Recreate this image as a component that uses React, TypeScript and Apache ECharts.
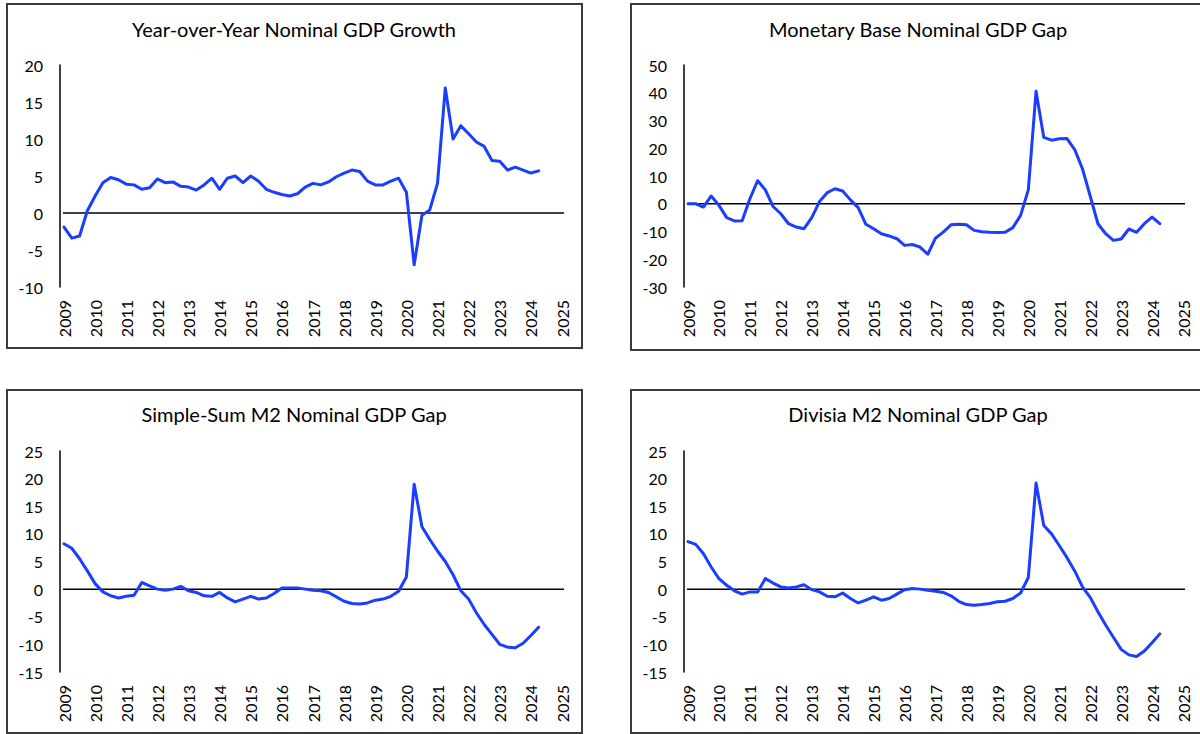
import React, { useEffect, useRef } from "react";
import * as echarts from "echarts";

// ---------- data ----------
const firstYear = 2009;
const lastYearTick = 2025;
const quarterCount = 62; // 2009Q1 .. 2024Q2

const panelTitles = [
  "Year-over-Year Nominal GDP Growth",
  "Monetary Base Nominal GDP Gap",
  "Simple-Sum M2 Nominal GDP Gap",
  "Divisia M2 Nominal GDP Gap",
];

const yoyNominalGdpGrowth = [
  -1.9, -3.4, -3.1, 0.3,
  2.3, 4.1, 4.8, 4.5,
  3.9, 3.8, 3.2, 3.4,
  4.6, 4.1, 4.2, 3.6,
  3.5, 3.1, 3.8, 4.7,
  3.2, 4.7, 5.0, 4.1,
  5.0, 4.3, 3.2, 2.8,
  2.5, 2.3, 2.6, 3.5,
  4.0, 3.8, 4.2, 4.9,
  5.4, 5.8, 5.6, 4.3,
  3.8, 3.8, 4.3, 4.7,
  2.8, -7.0, -0.3, 0.4,
  4.0, 16.9, 10.0, 11.8,
  10.7, 9.6, 9.0, 7.1,
  7.0, 5.8, 6.2, 5.8,
  5.4, 5.7,
];

const monetaryBaseGap = [
  0.0, 0.0, -1.2, 2.8,
  -0.6, -5.0, -6.2, -6.1,
  1.8, 8.3, 5.0, -1.0,
  -3.6, -7.2, -8.4, -9.0,
  -5.0, 0.8, 4.0, 5.4,
  4.6, 1.4, -1.4, -7.4,
  -9.0, -10.8, -11.6, -12.6,
  -15.0, -14.7, -15.6, -18.2,
  -12.4, -10.2, -7.6, -7.4,
  -7.6, -9.6, -10.1, -10.3,
  -10.4, -10.3, -8.6, -4.2,
  5.0, 40.5, 23.9, 22.9,
  23.4, 23.5, 19.5, 12.6,
  2.8, -7.2, -10.8, -13.2,
  -12.7, -9.1, -10.3, -7.2,
  -4.8, -7.2,
];

const simpleSumM2Gap = [
  8.2, 7.4, 5.5, 3.3,
  1.0, -0.5, -1.2, -1.6,
  -1.3, -1.1, 1.2, 0.6,
  0.0, -0.2, 0.0, 0.5,
  -0.3, -0.6, -1.2, -1.3,
  -0.6, -1.6, -2.3, -1.8,
  -1.3, -1.8, -1.6, -0.8,
  0.2, 0.2, 0.2, 0.0,
  -0.2, -0.3, -0.6, -1.4,
  -2.2, -2.6, -2.7, -2.5,
  -2.0, -1.8, -1.3, -0.4,
  2.2, 19.0, 11.3, 9.0,
  6.9, 5.0, 2.6, -0.3,
  -1.8, -4.3, -6.4, -8.2,
  -10.0, -10.5, -10.6, -9.8,
  -8.4, -6.9,
];

const divisiaM2Gap = [
  8.6, 8.1, 6.4, 4.0,
  1.9, 0.7, -0.3, -0.9,
  -0.5, -0.5, 1.9, 1.1,
  0.4, 0.2, 0.4, 0.8,
  -0.1, -0.5, -1.3, -1.4,
  -0.7, -1.7, -2.5, -2.0,
  -1.4, -2.0, -1.7, -0.9,
  -0.1, 0.1, 0.0, -0.2,
  -0.4, -0.6, -1.2, -2.2,
  -2.8, -2.9, -2.8, -2.6,
  -2.3, -2.2, -1.7, -0.7,
  2.1, 19.2, 11.5, 10.0,
  7.9, 5.7, 3.3, 0.4,
  -1.5, -4.1, -6.5, -8.7,
  -10.9, -11.9, -12.2, -11.2,
  -9.7, -8.1,
];

const panelValues = [yoyNominalGdpGrowth, monetaryBaseGap, simpleSumM2Gap, divisiaM2Gap];
const yAxisMin = [-10, -30, -15, -15];
const yAxisMax = [20, 50, 25, 25];
const yAxisStep = [5, 10, 5, 5];

// ---------- layout ----------
const layouts = [
  { box: [7, 4, 575, 344], grid: { left: 64, top: 65, width: 498, height: 222 }, titleX: 294, titleY: 19 },
  { box: [631, 4, 575, 346], grid: { left: 688, top: 65, width: 495, height: 222 }, titleX: 918, titleY: 19 },
  { box: [7, 390, 575, 343], grid: { left: 64, top: 451, width: 498, height: 221 }, titleX: 294, titleY: 404 },
  { box: [631, 390, 575, 343], grid: { left: 688, top: 451, width: 495, height: 221 }, titleX: 918, titleY: 404 },
];

const FONT = "Lato, 'Open Sans', sans-serif";
const LINE_COLOR = "#1b3dff";

export default function App() {
  const ref = useRef<HTMLDivElement>(null);

  useEffect(() => {
    if (!ref.current) return;
    const chart = echarts.init(ref.current, undefined, { renderer: "svg" });

    const quarterTimes: number[] = [];
    for (let k = 0; k < quarterCount; k++) quarterTimes.push(firstYear + k * 0.25);

    const grids: any[] = [];
    const xAxes: any[] = [];
    const yAxes: any[] = [];
    const series: any[] = [];
    const titles: any[] = [];
    const graphics: any[] = [];

    layouts.forEach((lay, i) => {
      grids.push({ ...lay.grid, containLabel: false });
      const pxPerYear = lay.grid.width / (lastYearTick - firstYear);
      xAxes.push({
        gridIndex: i,
        type: "value",
        min: firstYear,
        max: lastYearTick,
        interval: 1,
        axisLine: { show: false, onZero: false },
        axisTick: { show: false },
        splitLine: { show: false },
        axisLabel: {
          rotate: 90,
          margin: 13,
          fontSize: 16,
          fontFamily: FONT,
          color: "#000",
          formatter: (v: number) => String(v),
        },
      });
      yAxes.push({
        gridIndex: i,
        type: "value",
        min: yAxisMin[i],
        max: yAxisMax[i],
        interval: yAxisStep[i],
        offset: 4,
        axisLine: { show: true, lineStyle: { color: "#000", width: 1.5 } },
        axisTick: { show: false },
        splitLine: { show: false },
        axisLabel: {
          margin: 17,
          fontSize: 16,
          fontFamily: FONT,
          color: "#000",
          formatter: (v: number) => String(v),
        },
      });
      series.push({
        type: "line",
        xAxisIndex: i,
        yAxisIndex: i,
        data: [
          [firstYear - 4 / pxPerYear, 0],
          [lastYearTick + 4 / pxPerYear, 0],
        ],
        clip: false,
        showSymbol: false,
        silent: true,
        lineStyle: { color: "#000", width: 1.5 },
        z: 2,
      });
      series.push({
        type: "line",
        name: panelTitles[i],
        xAxisIndex: i,
        yAxisIndex: i,
        data: panelValues[i].map((v, k) => [quarterTimes[k], v]),
        showSymbol: false,
        silent: true,
        lineStyle: { color: LINE_COLOR, width: 3, join: "round", cap: "round" },
        z: 3,
      });
      titles.push({
        text: panelTitles[i],
        left: lay.titleX,
        top: lay.titleY,
        textAlign: "center",
        padding: 0,
        textStyle: { fontSize: 20, fontWeight: "normal", fontFamily: FONT, color: "#000" },
      });
      const [bx, by, bw, bh] = lay.box;
      graphics.push({
        type: "rect",
        shape: { x: bx, y: by, width: bw, height: bh },
        style: { fill: "none", stroke: "#3a3a3a", lineWidth: 2 },
        silent: true,
        z: 0,
      });
    });

    chart.setOption({
      animation: false,
      backgroundColor: "#fff",
      textStyle: { fontFamily: FONT },
      title: titles,
      grid: grids,
      xAxis: xAxes,
      yAxis: yAxes,
      series,
      graphic: graphics,
    });

    return () => chart.dispose();
  }, []);

  return (
    <div
      ref={ref}
      style={{ position: "fixed", left: 0, top: 0, width: 1200, height: 734, background: "#fff" }}
    />
  );
}
